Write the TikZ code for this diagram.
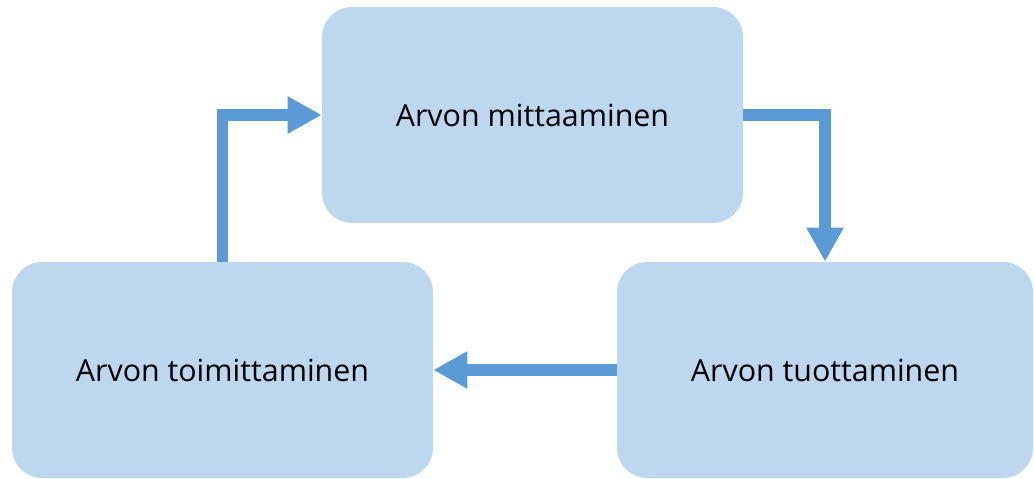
\documentclass[tikz,border=0pt]{standalone}
\usepackage{fontspec}
\setmainfont{Open Sans}
\usetikzlibrary{arrows.meta}
\definecolor{boxfill}{HTML}{BDD7EE}
\definecolor{flowblue}{HTML}{5B9BD5}
\tikzset{
    phase/.style={fill=boxfill, rounded corners=0.6cm, minimum width=8.42cm, minimum height=4.32cm, font=\fontsize{17.3}{20}\selectfont, text=black},
    flow/.style={draw=flowblue, line width=0.23cm, -{Triangle[length=0.68cm, width=0.7cm]}}
}

\begin{document}
\begin{tikzpicture}[x=0.02cm, y=-0.02cm]
    \useasboundingbox (0,0) rectangle (1034,479);
    % boxes:
    \node[phase] (mitt) at (532.5,115) {Arvon mittaaminen};
    \node[phase, minimum width=8.32cm] (tuot) at (825,370) {Arvon tuottaminen};
    \node[phase] (toim) at (222.5,370) {Arvon toimittaminen};
    % arrows:
    \draw[flow] (toim.north) |- (mitt.west);
    \draw[flow] (mitt.east) -| (tuot.north);
    \draw[flow] (tuot.west) -- (toim.east);
\end{tikzpicture}
\end{document}
